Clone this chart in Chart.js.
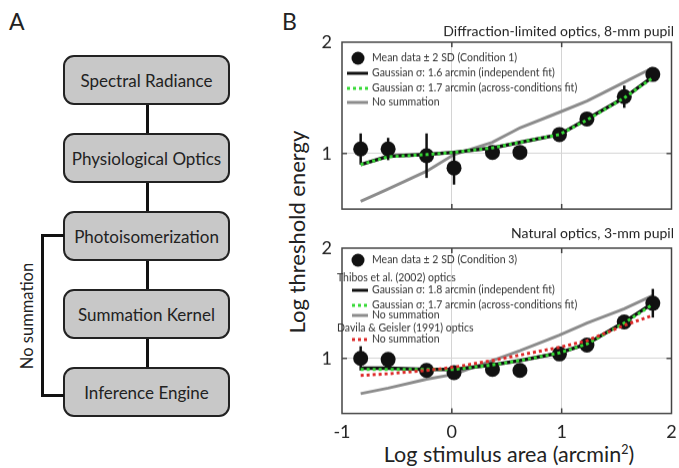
<!DOCTYPE html>
<html>
<head>
<meta charset="utf-8">
<script src="https://cdn.jsdelivr.net/npm/chart.js@4.4.1/dist/chart.umd.min.js"></script>
<style>
  body { margin: 0; background: #fff; }
  #fig { position: relative; width: 679px; height: 468px; overflow: hidden; font-family: Lato, sans-serif; color: #222; }
  .box { position: absolute; left: 63px; width: 167px; height: 50px; box-sizing: border-box; border: 2px solid #222;
         border-radius: 11px; background: #c8c8c8; display: flex; align-items: center; justify-content: center; font-size: 17px; }
  .link { position: absolute; left: 146px; width: 3px; background: #111; }
  .panel { position: absolute; font-size: 23px; }
  .rot { position: absolute; transform: rotate(-90deg); text-align: center; white-space: nowrap; }
  .chartbox { position: absolute; }
</style>
</head>
<body>
<div id="fig">
  <div class="panel" style="left:9px; top:7px;">A</div>
  <div class="panel" style="left:282px; top:7px;">B</div>

  <div class="box" style="top:55px;">Spectral Radiance</div>
  <div class="link" style="top:105px; height:28px;"></div>
  <div class="box" style="top:133px;">Physiological Optics</div>
  <div class="link" style="top:183px; height:28px;"></div>
  <div class="box" style="top:211px;">Photoisomerization</div>
  <div class="link" style="top:261px; height:28px;"></div>
  <div class="box" style="top:289px;">Summation Kernel</div>
  <div class="link" style="top:339px; height:28px;"></div>
  <div class="box" style="top:367px;">Inference Engine</div>
  <div style="position:absolute; left:41px; top:234px; width:23px; height:163px; box-sizing:border-box;
              border-left:3px solid #111; border-top:3px solid #111; border-bottom:3px solid #111;"></div>
  <div class="rot" style="left:-33px; top:306px; width:120px; line-height:20px; font-size:16.5px;">No summation</div>

  <div class="rot" style="left:187px; top:220px; width:220px; line-height:24px; font-size:22px;">Log threshold energy</div>
  <div style="position:absolute; left:349px; top:442px; width:320px; text-align:center; line-height:24px; font-size:21.5px;">Log stimulus area (arcmin<sup style="font-size:12.5px; line-height:0;">2</sup>)</div>

  <div class="chartbox" style="left:300px; top:16.4px; width:379px; height:199.6px;"><canvas id="top"></canvas></div>
  <div class="chartbox" style="left:300px; top:222.4px; width:379px; height:230.6px;"><canvas id="bottom"></canvas></div>
</div>

<script>
// stimulus sizes (log arcmin^2)
const logArea = [-0.83, -0.58, -0.23, 0.02, 0.37, 0.62, 0.98, 1.23, 1.57, 1.83];

// Condition 1: diffraction-limited optics, 8-mm pupil
const cond1Mean   = [1.04, 1.04, 0.98, 0.87, 1.01, 1.01, 1.17, 1.31, 1.51, 1.71];
const cond1Err    = [0.14, 0.10, 0.20, 0.15, 0.03, 0.03, 0.04, 0.04, 0.10, 0.06];
const fit1Indep   = [0.90, 0.975, 0.99, 1.01, 1.05, 1.10, 1.17, 1.31, 1.50, 1.69];
const fit1Across  = [0.90, 0.97, 0.99, 1.01, 1.05, 1.10, 1.17, 1.30, 1.50, 1.68];
const noSum1      = [0.57, 0.68, 0.84, 0.99, 1.10, 1.23, 1.37, 1.47, 1.64, 1.77];

// Condition 3: natural optics, 3-mm pupil
const cond3Mean   = [1.00, 0.99, 0.89, 0.87, 0.90, 0.89, 1.04, 1.12, 1.33, 1.50];
const cond3Err    = [0.11, 0.04, 0.03, 0.03, 0.03, 0.03, 0.03, 0.04, 0.04, 0.13];
const fit3Indep   = [0.91, 0.91, 0.90, 0.90, 0.94, 0.98, 1.05, 1.13, 1.33, 1.50];
const fit3Across  = [0.90, 0.90, 0.90, 0.90, 0.94, 0.98, 1.05, 1.13, 1.32, 1.49];
const noSum3Thib  = [0.68, 0.73, 0.81, 0.855, 0.98, 1.07, 1.21, 1.32, 1.45, 1.57];
const noSum3Dav   = [0.845, 0.86, 0.89, 0.92, 0.98, 1.03, 1.10, 1.16, 1.30, 1.39];

const xTicks = [-1, 0, 1, 2];
const yTicks = [1, 2];

const title1 = 'Diffraction-limited optics, 8-mm pupil';
const title3 = 'Natural optics, 3-mm pupil';

const legend1 = [
  { kind: 'marker', text: 'Mean data \u00b1 2 SD (Condition 1)' },
  { kind: 'black',  text: 'Gaussian \u03c3: 1.6 arcmin (independent fit)' },
  { kind: 'green',  text: 'Gaussian \u03c3: 1.7 arcmin (across-conditions fit)' },
  { kind: 'gray',   text: 'No summation' }
];
const legend3 = [
  { kind: 'marker', text: 'Mean data \u00b1 2 SD (Condition 3)' },
  { kind: 'header', text: 'Thibos et al. (2002) optics' },
  { kind: 'black',  text: 'Gaussian \u03c3: 1.8 arcmin (independent fit)' },
  { kind: 'green',  text: 'Gaussian \u03c3: 1.7 arcmin (across-conditions fit)' },
  { kind: 'gray',   text: 'No summation' },
  { kind: 'header', text: 'Davila & Geisler (1991) optics' },
  { kind: 'red',    text: 'No summation' }
];

const BLACK = '#111', GREEN = '#36d936', GRAY = '#8c8c8c', RED = '#dd2a2a';

Chart.defaults.font.family = 'Lato, sans-serif';
Chart.defaults.color = '#222';

const pts = (ys) => logArea.map((x, i) => ({ x, y: ys[i] }));

// black error bars under the mean markers
const errorBars = {
  id: 'errorBars',
  beforeDatasetDraw(chart, args) {
    const ds = chart.data.datasets[args.index];
    if (!ds.errors) return;
    const { ctx, scales: { x, y } } = chart;
    ctx.save();
    ctx.strokeStyle = BLACK;
    ctx.lineWidth = 2.5;
    ds.data.forEach((p, i) => {
      const px = x.getPixelForValue(p.x);
      ctx.beginPath();
      ctx.moveTo(px, y.getPixelForValue(p.y - ds.errors[i]));
      ctx.lineTo(px, y.getPixelForValue(p.y + ds.errors[i]));
      ctx.stroke();
    });
    ctx.restore();
  }
};

// matlab style box with inward ticks
const frame = {
  id: 'frame',
  afterDraw(chart) {
    const { ctx, chartArea: a, scales: { x, y } } = chart;
    ctx.save();
    ctx.strokeStyle = '#444';
    ctx.lineWidth = 1.5;
    ctx.strokeRect(a.left, a.top, a.width, a.height);
    ctx.beginPath();
    xTicks.filter(v => v > x.min && v < x.max).forEach(v => {
      const px = x.getPixelForValue(v);
      ctx.moveTo(px, a.top); ctx.lineTo(px, a.top + 5);
      ctx.moveTo(px, a.bottom); ctx.lineTo(px, a.bottom - 5);
    });
    yTicks.filter(v => v > y.min && v < y.max).forEach(v => {
      const py = y.getPixelForValue(v);
      ctx.moveTo(a.left, py); ctx.lineTo(a.left + 5, py);
      ctx.moveTo(a.right, py); ctx.lineTo(a.right - 5, py);
    });
    ctx.stroke();
    ctx.restore();
  }
};

// legend drawn inside the plot area
const inlineLegend = {
  id: 'inlineLegend',
  afterDraw(chart, args, opts) {
    const { ctx, chartArea: a } = chart;
    ctx.save();
    ctx.font = '10.5px Lato, sans-serif';
    ctx.textBaseline = 'middle';
    opts.items.forEach((it, i) => {
      const y = a.top + opts.rows[i];
      const x0 = a.left + opts.swatch[0], x1 = a.left + opts.swatch[1];
      ctx.setLineDash([]);
      if (it.kind === 'marker') {
        ctx.fillStyle = BLACK;
        ctx.beginPath();
        ctx.arc(a.left + 16, y, 6.5, 0, Math.PI * 2);
        ctx.fill();
      } else if (it.kind !== 'header') {
        ctx.lineWidth = 3;
        ctx.strokeStyle = { black: BLACK, green: GREEN, gray: GRAY, red: RED }[it.kind];
        if (it.kind === 'green' || it.kind === 'red') ctx.setLineDash([3, 3]);
        ctx.beginPath();
        ctx.moveTo(x0, y); ctx.lineTo(x1, y);
        ctx.stroke();
      }
      ctx.fillStyle = '#333';
      ctx.fillText(it.text, it.kind === 'header' ? a.left - 5 : a.left + 30, y);
    });
    ctx.restore();
  }
};

// label overhang padding is switched off so the plot box keeps its size
function noPad(s) {
  s.paddingTop = 0; s.paddingBottom = 0; s.paddingLeft = 0; s.paddingRight = 0;
}

function scales(showX, xAxisHeight) {
  return {
    x: {
      type: 'linear', min: -1, max: 2,
      afterBuildTicks: (s) => { s.ticks = xTicks.map(v => ({ value: v })); },
      afterFit: (s) => { s.height = xAxisHeight; noPad(s); },
      border: { display: false },
      grid: { drawTicks: false, color: (c) => (c.tick && (c.tick.value === 0 || c.tick.value === 1)) ? '#d4d4d4' : 'rgba(0,0,0,0)' },
      ticks: { display: showX, padding: 8, font: { size: 18 }, color: '#222', maxRotation: 0 }
    },
    y: {
      type: 'linear', min: 0.5, max: 2,
      afterBuildTicks: (s) => { s.ticks = yTicks.map(v => ({ value: v })); },
      afterFit: (s) => { s.width = 42; noPad(s); },
      border: { display: false },
      grid: { drawTicks: false, color: (c) => (c.tick && c.tick.value === 1) ? '#d4d4d4' : 'rgba(0,0,0,0)' },
      ticks: { padding: 10, font: { size: 18 }, color: '#222' }
    }
  };
}

function makeChart(id, datasets, title, titlePad, legendOpts, showX, xAxisHeight) {
  return new Chart(document.getElementById(id), {
    type: 'scatter',
    data: { datasets },
    options: {
      responsive: true, maintainAspectRatio: false, animation: false, events: [],
      layout: { padding: { left: 0, right: 5, top: 0, bottom: 0 } },
      scales: scales(showX, xAxisHeight),
      plugins: {
        legend: { display: false },
        tooltip: { enabled: false },
        title: { display: true, text: title, align: 'end', color: '#222',
                 font: { size: 14, weight: 'normal', lineHeight: 1.2 }, padding: titlePad },
        inlineLegend: legendOpts
      }
    },
    plugins: [errorBars, frame, inlineLegend]
  });
}

function curve(label, ys, color, width, dash, order) {
  return { label, data: pts(ys), showLine: true, pointRadius: 0, borderColor: color,
           borderWidth: width, borderDash: dash, borderCapStyle: 'butt', tension: 0, order };
}

function means(ys, errs, order) {
  return { label: 'Mean data', data: pts(ys), errors: errs, showLine: false, pointRadius: 7.5,
           pointBackgroundColor: BLACK, pointBorderColor: BLACK, pointBorderWidth: 0, order };
}

makeChart('top', [
  curve('No summation', noSum1, GRAY, 3, [], 5),
  means(cond1Mean, cond1Err, 4),
  curve('Gaussian 1.6', fit1Indep, BLACK, 3.5, [], 3),
  curve('Gaussian 1.7', fit1Across, GREEN, 3, [3, 3], 2)
], title1, { top: 6.6, bottom: 2.6 },
  { items: legend1, rows: [16, 31, 46, 60], swatch: [5, 26] }, false, 2);

makeChart('bottom', [
  curve('No summation (Thibos)', noSum3Thib, GRAY, 3, [], 6),
  means(cond3Mean, cond3Err, 5),
  curve('Gaussian 1.8', fit3Indep, BLACK, 3.5, [], 4),
  curve('Gaussian 1.7', fit3Across, GREEN, 3, [3, 3], 3),
  curve('No summation (Davila)', noSum3Dav, RED, 3, [3, 3], 2)
], title3, { top: 2.6, bottom: 6.6 },
  { items: legend3, rows: [12, 30, 42, 57, 67, 80, 91], swatch: [10, 26] }, true, 40);
</script>
</body>
</html>
